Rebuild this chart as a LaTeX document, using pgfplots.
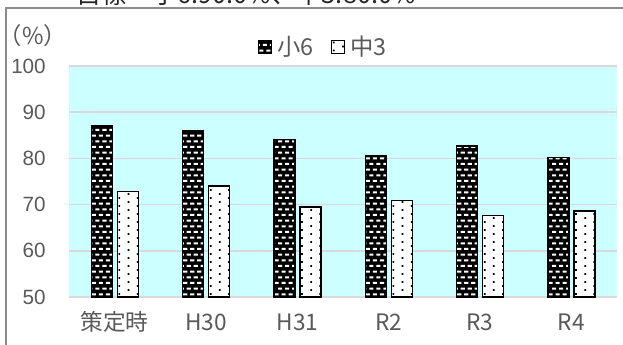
\documentclass[border=0pt]{standalone}
\usepackage{pgfplots}
\pgfplotsset{compat=1.18}
\usepackage{fontspec}
\setmainfont{Liberation Sans}
\newfontfamily\jp{Noto Sans CJK JP}
\definecolor{bgc}{HTML}{CCFFFF}
\definecolor{gridc}{HTML}{D9D9D9}
\definecolor{txt}{HTML}{595959}
\definecolor{framec}{HTML}{8C8C8C}

\newcommand\brickcode{%
  \pgfsetfillcolor{white}%
  \foreach \r in {0,...,31}{\foreach \c in {-1,...,80}{%
    \pgfmathsetlengthmacro\bx{\c*5.269pt+mod(\r,2)*2.635pt+0.5pt}%
    \pgfmathsetlengthmacro\by{\r*4.25pt+1.3pt}%
    \pgfpathrectangle{\pgfpointadd{\pgfpointanchor{path picture bounding box}{south west}}{\pgfpoint{\bx}{\by}}}{\pgfpoint{3.1pt}{1.5pt}}%
  }}%
  \pgfusepath{fill}}
\newcommand\dotcode{%
  \pgfsetfillcolor{black}%
  \foreach \r in {0,...,28}{\foreach \c in {0,...,30}{%
    \pgfmathsetlengthmacro\bx{\c*13.7pt+mod(\r,2)*6.85pt+1.0pt}%
    \pgfmathsetlengthmacro\by{\r*3pt+1.6pt}%
    \pgfpathrectangle{\pgfpointadd{\pgfpointanchor{path picture bounding box}{south west}}{\pgfpoint{\bx}{\by}}}{\pgfpoint{1.3pt}{1.3pt}}%
  }}%
  \pgfusepath{fill}}
\tikzset{
  brickfill/.style={path picture={\brickcode}},
  dotfill/.style={path picture={\dotcode}},
}

\begin{document}
\begin{tikzpicture}
\begin{axis}[
  at={(0,0)}, anchor=south west,
  scale only axis, width=411pt, height=173.25pt,
  xmin=-0.5, xmax=5.5, ymin=50, ymax=100,
  ytick={50,60,70,80,90,100},
  xtick={0,1,2,3,4,5},
  xticklabels={策定時,H30,H31,R2,R3,R4},
  axis background/.style={fill=bgc},
  ymajorgrids, grid style={draw=gridc, line width=1.2pt},
  axis line style={draw=none}, major tick length=0pt,
  /pgf/number format/assume math mode=true,
  yticklabel style={font=\fontsize{15.5}{16}\selectfont, text=txt, anchor=east, inner sep=0pt, xshift=-17.25pt},
  xticklabel style={font=\jp\fontsize{17}{17}\selectfont, text=txt, anchor=base, yshift=-25pt},
  ybar, bar width=15.75pt,
  legend image code/.code={\draw[#1] (0pt,-4.75pt) rectangle (9.5pt,4.75pt);},
  legend style={at={(0.467,1.082)}, anchor=center, draw=none, fill=none,
    legend columns=2, font=\jp\fontsize{17.5}{17.5}\selectfont, text=txt,
    /tikz/every even column/.append style={column sep=9pt},
    nodes={inner xsep=4pt}},
]
\addplot[fill=black, draw=black, line width=1pt, bar shift=-9.75pt, brickfill]
  coordinates {(0,87.1) (1,86.0) (2,84.1) (3,80.5) (4,82.7) (5,80.2)};
\addlegendentry{小6}
\addplot[fill=white, draw=black, line width=1pt, bar shift=9.75pt, dotfill]
  coordinates {(0,72.9) (1,74.0) (2,69.5) (3,70.9) (4,67.7) (5,68.6)};
\addlegendentry{中3}
\end{axis}
\begin{scope}[x=0.75pt, y=-0.75pt, shift={(-51.75pt,222.75pt)}]
  \draw[framec, line width=1.2pt] (6,420) -- (6,8) -- (700,8);
  \node[anchor=base west, inner sep=0pt, font=\jp\fontsize{19}{19}\selectfont, text=black!85] at (76,3) {目標　小6:90.0\%、中3:80.0\%};
  \node[inner sep=0pt, font=\jp\fontsize{17.5}{17.5}\selectfont, text=txt] at (33,36) {（\%）};
\end{scope}
\pgfresetboundingbox
\useasboundingbox (-51.75pt,222.75pt) rectangle (415.5pt,-35.25pt);
\end{tikzpicture}
\end{document}
